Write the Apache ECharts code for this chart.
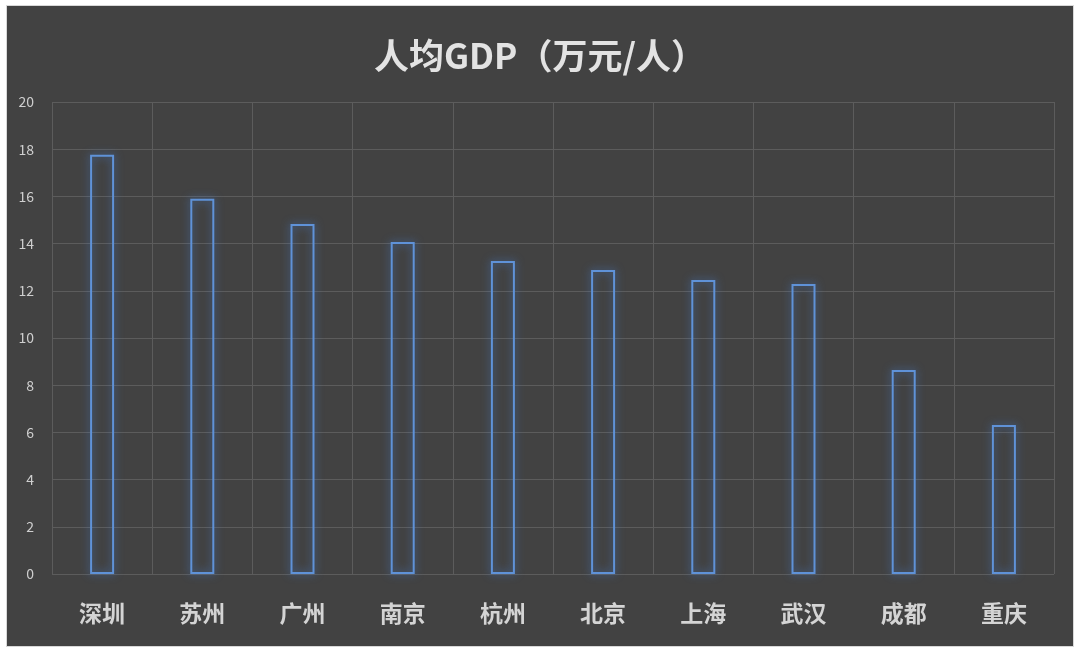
<!DOCTYPE html>
<html><head><meta charset="utf-8">
<script src="https://cdn.jsdelivr.net/npm/echarts@6/dist/echarts.min.js"></script>
<style>
html,body{margin:0;padding:0;background:#ffffff;width:1080px;height:652px;overflow:hidden;}
#c{position:absolute;left:7px;top:6px;width:1066px;height:640px;background:#424242;box-shadow:0 0 0 1px #d8d8d8;}
</style></head>
<body><div id="c"></div>
<script>
const titleText = '人均GDP（万元/人）';
const cities = ['深圳','苏州','广州','南京','杭州','北京','上海','武汉','成都','重庆'];
const gdpPerCapita = [17.76, 15.9, 14.83, 14.07, 13.26, 12.88, 12.46, 12.29, 8.64, 6.31];

const chart = echarts.init(document.getElementById('c'), null, {renderer:'canvas'});
chart.setOption({
  backgroundColor: '#424242',
  animation: false,
  title: {
    text: titleText, left: 'center', top: 27,
    textStyle: {color:'#e3e3e3', fontSize:35, fontWeight:'bold', fontFamily:'Noto Sans CJK SC'}
  },
  grid: {left:45, right:19, top:96, bottom:72},
  xAxis: {
    type:'category', data: cities, boundaryGap:true,
    axisLine:{show:false}, axisTick:{show:false},
    axisLabel:{color:'#d4d4d4', fontSize:23, fontWeight:'bold', margin:28, fontFamily:'Noto Sans CJK SC'},
    splitLine:{show:true, lineStyle:{color:'#5c5c5c', width:1}}
  },
  yAxis: {
    type:'value', min:0, max:20, interval:2,
    axisLine:{show:false}, axisTick:{show:false},
    axisLabel:{color:'#cfcfcf', fontSize:14, margin:18, fontFamily:'Noto Sans CJK SC'},
    splitLine:{show:true, lineStyle:{color:'#5c5c5c', width:1}}
  },
  series: [{
    type:'bar', data: gdpPerCapita, barWidth:24,
    itemStyle:{
      color:'rgba(66,66,66,0)',
      borderColor:'#5f92d8', borderWidth:2,
      shadowColor:'rgba(70,130,220,0.8)', shadowBlur:8
    }
  }]
});
</script></body></html>
